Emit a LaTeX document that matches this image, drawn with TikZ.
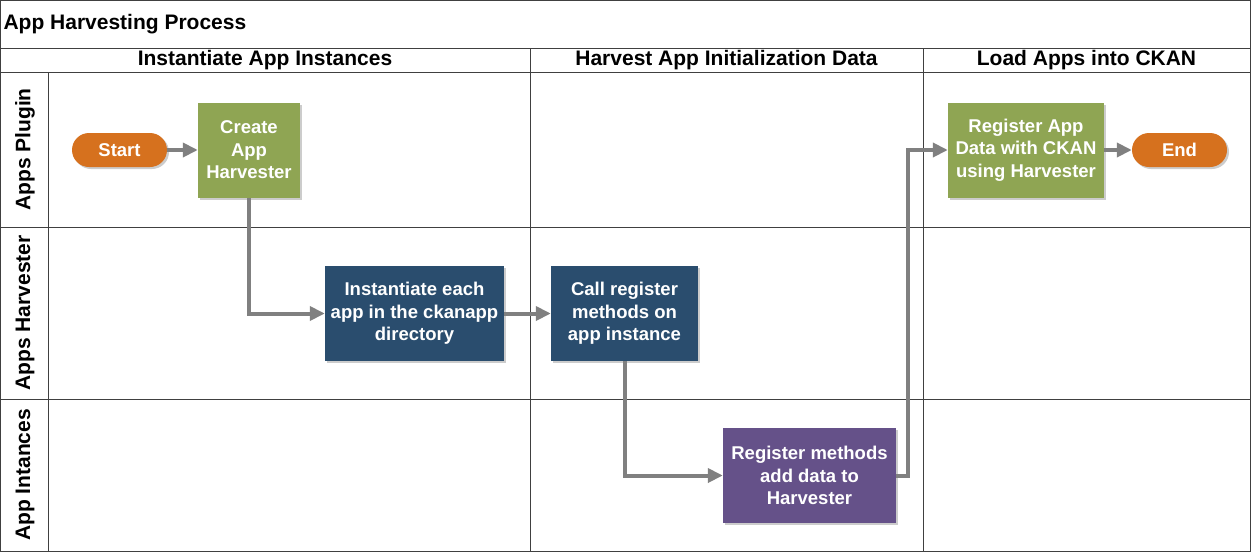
\documentclass[tikz,border=0pt]{standalone}
\usepackage{fontspec}
\setmainfont{Liberation Sans}
\usepackage{tikz}
\usetikzlibrary{arrows.meta,shadows}
\definecolor{gridgray}{HTML}{404040}
\definecolor{arrowgray}{HTML}{808080}
\definecolor{termorange}{HTML}{D6711E}
\definecolor{plugingreen}{HTML}{8FA553}
\definecolor{harvblue}{HTML}{2A4D6E}
\definecolor{instpurple}{HTML}{655189}

\begin{document}
\begin{tikzpicture}[x=1pt,y=-1pt]
\tikzset{grid/.style = {draw=gridgray, line width=1pt}}
\tikzset{heading/.style = {font=\fontsize{21}{24}\selectfont\bfseries}}
\tikzset{task/.style = {rectangle, fill=#1, text=white, align=center, minimum height=95pt, inner sep=0pt, font=\fontsize{18.5}{22.5}\selectfont\bfseries, drop shadow={shadow xshift=2pt, shadow yshift=-2pt, opacity=0.2, fill=black}}}
\tikzset{terminal/.style = {task=termorange, minimum width=95pt, minimum height=34pt, rounded corners=17pt}}
\tikzset{edge/.style = {->,> = {Triangle[length=15pt,width=14pt]}, draw=arrowgray, line width=4pt}}
\useasboundingbox (0,0) rectangle (1251,552);
% pool and lanes
\draw[grid] (0.5,0.5) rectangle (1250.5,551.5);
\draw[grid] (0,48) -- (1251,48);
\draw[grid] (0,72) -- (1251,72);
\draw[grid] (0,227) -- (1251,227);
\draw[grid] (0,399) -- (1251,399);
\draw[grid] (48,72) -- (48,552);
\draw[grid] (530,48) -- (530,552);
\draw[grid] (923,48) -- (923,552);
% headings
\node[heading, anchor=west] (title) at (0,24) {App Harvesting Process};
\node[heading] (phase1) at (265,60) {Instantiate App Instances};
\node[heading] (phase2) at (726.5,60) {Harvest App Initialization Data};
\node[heading] (phase3) at (1086.5,60) {Load Apps into CKAN};
\node[heading, rotate=90] (plugin) at (25,149.5) {Apps Plugin};
\node[heading, rotate=90] (harvester) at (25,313) {Apps Harvester};
\node[heading, rotate=90] (instances) at (25,475) {App Intances};
% vertices
\node[terminal] (start) at (119.5,150) {Start};
\node[task=plugingreen, minimum width=102pt] (create) at (249,150) {Create\\App\\Harvester};
\node[task=harvblue, minimum width=179pt] (inst) at (414.5,313.5) {Instantiate each\\app in the ckanapp\\directory};
\node[task=harvblue, minimum width=147pt] (call) at (624.5,313.5) {Call register\\methods on\\app instance};
\node[task=instpurple, minimum width=173pt] (regm) at (809.5,475.5) {Register methods\\add data to\\Harvester};
\node[task=plugingreen, minimum width=156pt] (regd) at (1026,150) {Register App\\Data with CKAN\\using Harvester};
\node[terminal] (stop) at (1179.5,150) {End};
\coordinate (turn) at (908,475.5);
%edges
\draw[edge] (start) to (create);
\draw[edge] (create) |- (inst);
\draw[edge] (inst) to (call);
\draw[edge] (call) |- (regm);
\draw[edge] (regm) -- (turn) |- (regd);
\draw[edge] (regd) to (stop);
\end{tikzpicture}
\end{document}
